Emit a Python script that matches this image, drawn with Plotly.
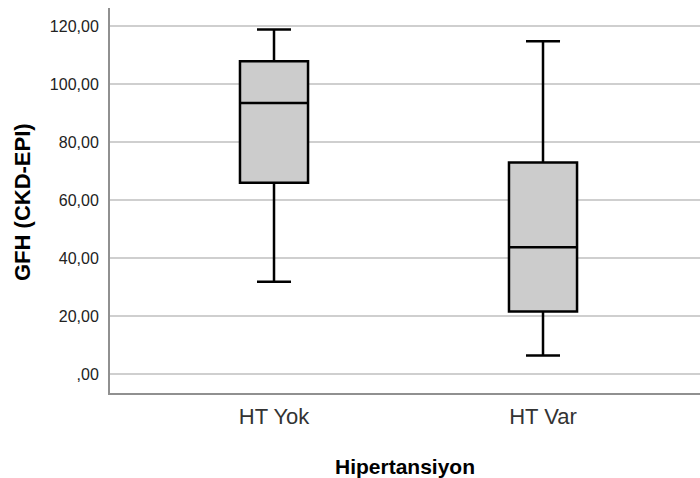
import plotly.graph_objects as go

categories = ["HT Yok", "HT Var"]
lower_whisker = [31.8, 6.4]
q1_values = [66.0, 21.6]
median_values = [93.5, 43.7]
q3_values = [107.9, 73.0]
upper_whisker = [118.9, 114.8]

y_tickvals = [0, 20, 40, 60, 80, 100, 120]
y_ticktext = [",00", "20,00", "40,00", "60,00", "80,00", "100,00", "120,00"]

x_title = "Hipertansiyon"
y_title = "GFH (CKD-EPI)"

FONT = "Liberation Sans, Arial, sans-serif"

fig = go.Figure()
for i, cat in enumerate(categories):
    fig.add_trace(go.Box(
        x=[cat],
        q1=[q1_values[i]],
        median=[median_values[i]],
        q3=[q3_values[i]],
        lowerfence=[lower_whisker[i]],
        upperfence=[upper_whisker[i]],
        width=0.253,
        whiskerwidth=0.5,
        fillcolor="#cccccc",
        line=dict(color="#000000", width=2.5),
        boxpoints=False,
        showlegend=False,
        hoverinfo="skip",
    ))

fig.update_layout(
    width=700, height=478,
    margin=dict(l=110, r=0, t=8, b=85, pad=0),
    paper_bgcolor="white",
    plot_bgcolor="white",
    font=dict(family=FONT),
    annotations=[
        dict(text=x_title, xref="paper", yref="paper", x=0.5, y=-(466 - 393) / 385,
             xanchor="center", yanchor="middle", showarrow=False,
             font=dict(size=21, color="#000000", family=FONT, weight="bold")),
        dict(text=y_title, xref="paper", yref="paper", x=-(110 - 23) / 590, y=(393 - 202) / 385,
             xanchor="center", yanchor="middle", showarrow=False, textangle=-90,
             font=dict(size=22, color="#000000", family=FONT, weight="bold")),
    ],
)

fig.update_xaxes(
    type="category",
    range=[-0.6097, 1.5836],
    automargin=False,
    showline=True, linecolor="#909090", linewidth=2,
    showgrid=False, zeroline=False,
    ticks="", ticklabelstandoff=3,
    tickfont=dict(size=22, color="#333333", family=FONT),
)

fig.update_yaxes(
    range=[-6.57, 126.3],
    automargin=False,
    tickvals=y_tickvals, ticktext=y_ticktext,
    showline=True, linecolor="#909090", linewidth=2,
    showgrid=True, gridcolor="#cfcfcf", gridwidth=1.5,
    zeroline=False,
    ticks="", ticklabelstandoff=6,
    tickfont=dict(size=16, color="#222222", family=FONT),
)

fig.write_html(
    "out.html",
    config={"displayModeBar": False},
    post_script="document.body.style.margin='0';document.body.style.overflow='hidden';",
)
